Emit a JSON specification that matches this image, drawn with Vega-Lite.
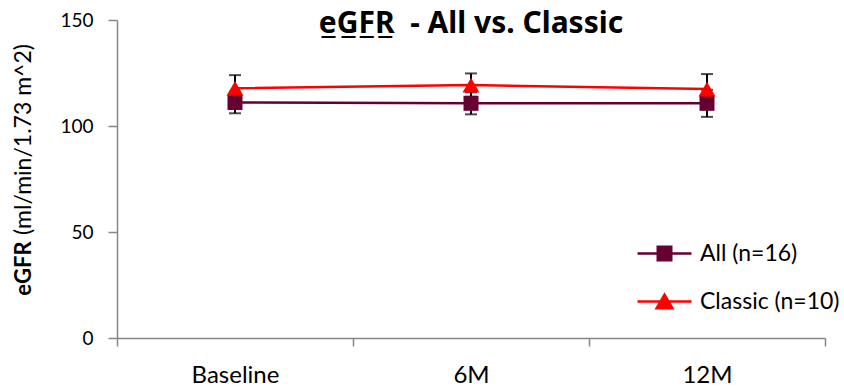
{
  "$schema": "https://vega.github.io/schema/vega-lite/v6.json",
  "autosize": {"type": "none"},
  "width": 708,
  "height": 318,
  "padding": {"left": 117, "top": 20, "right": 19, "bottom": 50},
  "background": "white",
  "title": {
    "text": "e\u0332G\u0332F\u0332R\u0332\u00a0\u00a0- All vs. Classic",
    "font": "Noto Sans",
    "fontSize": 30,
    "fontWeight": "bold",
    "color": "#000000",
    "anchor": "middle",
    "frame": "group",
    "baseline": "alphabetic",
    "offset": -52
  },
  "data": {
    "values": [
      {"series": "All (n=16)", "time": "Baseline", "mean": 111.1, "lo": 106.0, "hi": 116.2},
      {"series": "All (n=16)", "time": "6M", "mean": 110.7, "lo": 105.5, "hi": 115.9},
      {"series": "All (n=16)", "time": "12M", "mean": 110.7, "lo": 104.3, "hi": 117.1},
      {"series": "Classic (n=10)", "time": "Baseline", "mean": 117.8, "lo": 111.6, "hi": 124.0},
      {"series": "Classic (n=10)", "time": "6M", "mean": 119.3, "lo": 113.8, "hi": 124.8},
      {"series": "Classic (n=10)", "time": "12M", "mean": 117.4, "lo": 110.3, "hi": 124.5}
    ]
  },
  "encoding": {
    "x": {
      "field": "time",
      "type": "nominal",
      "sort": ["Baseline", "6M", "12M"],
      "scale": {"paddingInner": 0, "paddingOuter": 0},
      "axis": {
        "title": null,
        "labelAngle": 0,
        "labelFont": "Lato",
        "labelFontSize": 24,
        "labelColor": "#000000",
        "labelPadding": 36,
        "labelBaseline": "alphabetic",
        "tickBand": "extent",
        "tickSize": 8,
        "tickWidth": 1.5,
        "tickColor": "#868686",
        "domainColor": "#868686",
        "domainWidth": 1.5,
        "grid": false
      }
    }
  },
  "layer": [
    {
      "mark": {"type": "rule", "color": "#000000", "strokeWidth": 2},
      "encoding": {
        "y": {
          "field": "lo",
          "type": "quantitative",
          "scale": {"domain": [0, 150], "nice": false},
          "axis": {
            "orient": "left",
            "title": "(ml/min/1.73 m^2)",
            "titleFont": "Lato",
            "titleFontSize": 23,
            "titleFontWeight": "normal",
            "titleColor": "#000000",
            "titleAngle": -90,
            "titleX": -87,
            "titleY": 119,
            "titleAlign": "center",
            "titleBaseline": "alphabetic",
            "values": [0, 50, 100, 150],
            "labelFont": "Lato",
            "labelFontSize": 19,
            "labelColor": "#000000",
            "labelPadding": 15,
            "tickSize": 9,
            "tickWidth": 1.5,
            "tickColor": "#868686",
            "domainColor": "#868686",
            "domainWidth": 1.5,
            "grid": false
          }
        },
        "y2": {"field": "hi"}
      }
    },
    {
      "mark": {"type": "tick", "color": "#000000", "size": 12, "thickness": 2, "orient": "horizontal"},
      "encoding": {
        "y": {
          "field": "lo",
          "type": "quantitative",
          "axis": {
            "orient": "left",
            "title": "eGFR",
            "titleFont": "Lato",
            "titleFontSize": 22,
            "titleFontWeight": "bold",
            "titleColor": "#000000",
            "titleAngle": -90,
            "titleX": -87,
            "titleY": 248,
            "titleAlign": "center",
            "titleBaseline": "alphabetic",
            "labels": false,
            "ticks": false,
            "domain": false,
            "grid": false
          }
        }
      }
    },
    {
      "mark": {"type": "tick", "color": "#000000", "size": 12, "thickness": 2, "orient": "horizontal"},
      "encoding": {
        "y": {"field": "hi", "type": "quantitative", "axis": null}
      }
    },
    {
      "transform": [{"filter": "datum.series === 'All (n=16)'"}],
      "layer": [
        {
          "mark": {"type": "line", "color": "#660033", "strokeWidth": 2.5},
          "encoding": {"y": {"field": "mean", "type": "quantitative", "axis": null}}
        },
        {
          "mark": {"type": "point", "filled": true, "opacity": 1, "shape": "square", "size": 225},
          "encoding": {
            "y": {"field": "mean", "type": "quantitative", "axis": null},
            "color": {
              "field": "series",
              "type": "nominal",
              "scale": {"domain": ["All (n=16)"], "range": ["#660033"]},
              "legend": {
                "title": null,
                "orient": "none",
                "legendX": 532.5,
                "legendY": 218.5,
                "padding": 0,
                "symbolSize": 729,
                "symbolType": "M-2,0H2M-0.5,-0.5H0.5V0.5H-0.5Z",
                "symbolOpacity": 1,
                "symbolFillColor": "#660033",
                "symbolStrokeColor": "#660033",
                "symbolStrokeWidth": 2.5,
                "labelFont": "Lato",
                "labelFontSize": 23,
                "labelColor": "#000000",
                "labelOffset": 20.5
              }
            }
          }
        }
      ]
    },
    {
      "transform": [{"filter": "datum.series === 'Classic (n=10)'"}],
      "layer": [
        {
          "mark": {"type": "line", "color": "#FF0000", "strokeWidth": 2.5},
          "encoding": {"y": {"field": "mean", "type": "quantitative", "axis": null}}
        },
        {
          "mark": {"type": "point", "filled": true, "opacity": 1, "shape": "triangle-up", "size": 289},
          "encoding": {
            "y": {"field": "mean", "type": "quantitative", "axis": null},
            "color": {
              "field": "series",
              "type": "nominal",
              "scale": {"domain": ["Classic (n=10)"], "range": ["#FF0000"]},
              "legend": {
                "title": null,
                "orient": "none",
                "legendX": 532.5,
                "legendY": 266.5,
                "padding": 0,
                "symbolSize": 729,
                "symbolType": "M-2,0H2M0,-0.5L0.58,0.5H-0.58Z",
                "symbolOpacity": 1,
                "symbolFillColor": "#FF0000",
                "symbolStrokeColor": "#FF0000",
                "symbolStrokeWidth": 2.5,
                "labelFont": "Lato",
                "labelFontSize": 23,
                "labelColor": "#000000",
                "labelOffset": 20.5
              }
            }
          }
        }
      ]
    }
  ],
  "resolve": {"axis": {"y": "independent"}, "scale": {"color": "independent"}},
  "config": {"view": {"stroke": null}, "font": "Lato"}
}
